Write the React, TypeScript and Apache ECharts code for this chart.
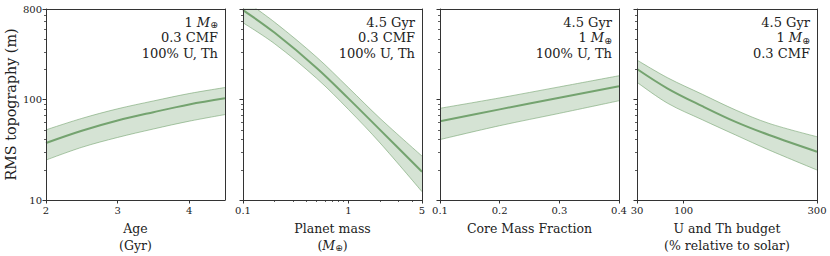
import React, { useEffect, useRef } from 'react';
import * as echarts from 'echarts';

// ---- data ----
const ageX = [2, 2.5, 3, 3.5, 4, 4.5];
const ageMid = [37, 49, 62, 75, 89.5, 103];
const ageHi = [50, 65, 81, 97, 115, 132];
const ageLo = [25, 33.5, 42, 51, 61, 71];

const massX = [0.1, 0.2, 0.5, 1, 2, 5];
const massMid = [780, 463, 207, 103, 50, 19.1];
const massHi = [1000, 590, 265, 132, 65, 27.4];
const massLo = [583, 360, 163, 80, 37, 12.1];

const cmfX = [0.1, 0.2, 0.3, 0.4];
const cmfMid = [61, 80, 104.5, 136];
const cmfHi = [82, 104, 134, 173];
const cmfLo = [40, 55, 73, 97.5];

const utX = [30, 76, 128, 178, 228, 300];
const utMid = [202, 129, 86, 60, 44.4, 30.3];
const utHi = [248, 165, 113, 78.8, 58, 42.7];
const utLo = [149, 92, 63, 44.4, 31.5, 19.9];

const yTicks = [10, 100, 800];
const yMinorTicks = [20, 30, 40, 50, 60, 70, 80, 90, 200, 300, 400, 500, 600, 700];
const ageTicks = [2, 3, 4];
const massTicks = [0.1, 1, 5];
const massMinorTicks = [0.2, 0.3, 0.4, 0.5, 0.6, 0.7, 0.8, 0.9, 2, 3, 4];
const cmfTicks = [0.1, 0.2, 0.3, 0.4];
const utTicks = [30, 100, 300];

const annotations = [
  '1 {i|M}{s|⊕}\n0.3 CMF\n100% U, Th',
  '4.5 Gyr\n0.3 CMF\n100% U, Th',
  '4.5 Gyr\n1 {i|M}{s|⊕}\n100% U, Th',
  '4.5 Gyr\n1 {i|M}{s|⊕}\n0.3 CMF',
];
const xNames = ['Age\n(Gyr)', 'Planet mass\n({i|M}{s|⊕})', 'Core Mass Fraction', 'U and Th budget\n(% relative to solar)'];

const FONT = 'DejaVu Serif';
const TXT = '#222';
const AX = '#333';
const LINE = '#74a36f';
const EDGE = 'rgba(116,163,111,0.75)';
const BAND = 'rgba(116,163,111,0.3)';

const GL = [46, 243, 440, 637];
const GW = [179, 179, 179, 180];
const GT = 9;
const GH = 191;

const richDefs = (size: number) => ({
  i: { fontFamily: FONT, fontStyle: 'italic', fontSize: size, color: TXT },
  s: { fontFamily: 'DejaVu Sans', fontSize: size * 0.72, color: TXT, padding: [size * 0.4, 0, 0, 0] },
});

export default function App() {
  const ref = useRef<HTMLDivElement>(null);
  useEffect(() => {
    document.body.style.margin = '0';
    if (!ref.current) return;
    const chart = echarts.init(ref.current, undefined, { renderer: 'svg' });

    const panels = [
      { xs: ageX, mid: ageMid, hi: ageHi, lo: ageLo, type: 'value', min: 2, max: 4.5, ticks: ageTicks, minor: [] as number[] },
      { xs: massX, mid: massMid, hi: massHi, lo: massLo, type: 'log', min: 0.1, max: 5, ticks: massTicks, minor: massMinorTicks },
      { xs: cmfX, mid: cmfMid, hi: cmfHi, lo: cmfLo, type: 'value', min: 0.1, max: 0.4, ticks: cmfTicks, minor: [] as number[] },
      { xs: utX, mid: utMid, hi: utHi, lo: utLo, type: 'value', min: 30, max: 300, ticks: utTicks, minor: [] as number[] },
    ];

    const grid: any[] = [];
    const xAxis: any[] = [];
    const yAxis: any[] = [];
    const series: any[] = [];
    const graphic: any[] = [];
    const frameLine = { show: true, lineStyle: { color: AX, width: 1 } };

    panels.forEach((p, i) => {
      grid.push({
        left: GL[i], top: GT, width: GW[i], height: GH,
        show: false, containLabel: false, outerBoundsMode: 'none',
      });
      const tickLabel = { fontFamily: FONT, fontSize: 10, color: TXT };
      xAxis.push({
        gridIndex: i, type: p.type, min: p.min, max: p.max, position: 'bottom', logBase: 10, z: 10,
        axisLine: frameLine, splitLine: { show: false },
        axisTick: { show: true, length: 3.5, customValues: p.ticks, lineStyle: { color: AX, width: 1 } },
        axisLabel: { show: true, customValues: p.ticks, margin: 5, ...tickLabel, formatter: (v: number) => String(v) },
        name: xNames[i], nameLocation: 'middle', nameGap: 19,
        nameTextStyle: { fontFamily: FONT, fontSize: 12.5, color: TXT, lineHeight: 17, rich: richDefs(12.5) },
      });
      xAxis.push({
        gridIndex: i, type: p.type, min: p.min, max: p.max, position: 'bottom', logBase: 10, z: 10,
        axisLine: { show: false }, splitLine: { show: false },
        axisTick: { show: p.minor.length > 0, length: 2, customValues: p.minor, lineStyle: { color: AX, width: 0.8 } },
        axisLabel: { show: false },
      });
      xAxis.push({
        gridIndex: i, type: p.type, min: p.min, max: p.max, position: 'top', logBase: 10, z: 10,
        axisLine: frameLine, splitLine: { show: false }, axisTick: { show: false }, axisLabel: { show: false },
      });
      yAxis.push({
        gridIndex: i, type: 'log', logBase: 10, min: 10, max: 800, position: 'left', z: 10,
        axisLine: frameLine, splitLine: { show: false },
        axisTick: { show: true, length: 3.5, customValues: yTicks, lineStyle: { color: AX, width: 1 } },
        axisLabel: { show: i === 0, customValues: yTicks, margin: 4, ...tickLabel, formatter: (v: number) => String(v) },
        name: i === 0 ? 'RMS topography (m)' : '', nameLocation: 'middle', nameGap: 28, nameRotate: 90,
        nameTextStyle: { fontFamily: FONT, fontSize: 14.3, color: TXT },
      });
      yAxis.push({
        gridIndex: i, type: 'log', logBase: 10, min: 10, max: 800, position: 'left', offset: 0, z: 10,
        axisLine: { show: false }, splitLine: { show: false },
        axisTick: { show: true, length: 2, customValues: yMinorTicks, lineStyle: { color: AX, width: 0.8 } },
        axisLabel: { show: false },
      });
      yAxis.push({
        gridIndex: i, type: 'log', logBase: 10, min: 10, max: 800, position: 'right', offset: 0, z: 10,
        axisLine: frameLine, splitLine: { show: false }, axisTick: { show: false }, axisLabel: { show: false },
      });

      const xi = 3 * i;
      const yi = 3 * i;
      const xs = p.xs;
      const smooth = 0.35;
      const base = { type: 'line', xAxisIndex: xi, yAxisIndex: yi, showSymbol: false, symbol: 'none', silent: true, clip: true, smooth };
      // upper edge: band colour filled down to the axis
      series.push({
        ...base, z: 2,
        data: xs.map((x, k) => [x, p.hi[k]]),
        lineStyle: { color: EDGE, width: 0.8 },
        areaStyle: { color: BAND, opacity: 1, origin: 'start' },
      });
      // lower edge: white fill below it masks the band's lower part
      series.push({
        ...base, z: 3,
        data: xs.map((x, k) => [x, p.lo[k]]),
        lineStyle: { color: EDGE, width: 0.8 },
        areaStyle: { color: '#ffffff', opacity: 1, origin: 'start' },
      });
      series.push({
        ...base, z: 4,
        data: xs.map((x, k) => [x, p.mid[k]]),
        lineStyle: { color: LINE, width: 2 },
      });

      graphic.push({
        type: 'text', right: 830 - (GL[i] + GW[i]) + 7, top: 14.5, z: 10,
        style: {
          text: annotations[i], fontFamily: FONT, fontSize: 13, fill: TXT, lineHeight: 15.5,
          textAlign: 'right', rich: richDefs(13),
        },
      });
    });

    chart.setOption({ animation: false, backgroundColor: '#fff', grid, xAxis, yAxis, series, graphic });
    return () => chart.dispose();
  }, []);
  return <div ref={ref} style={{ width: 830, height: 256 }} />;
}
